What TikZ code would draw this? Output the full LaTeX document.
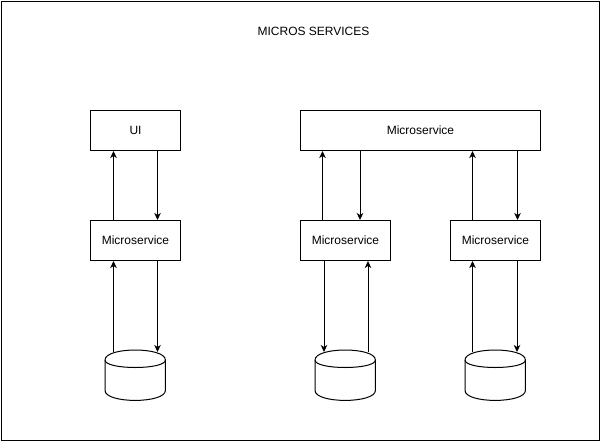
\documentclass[tikz,border=0pt]{standalone}
\usepackage{fontspec}
\setmainfont{Liberation Sans}
\usetikzlibrary{arrows.meta}
\begin{document}
\begin{tikzpicture}[x=1pt,y=-1pt,
  box/.style={draw=black,line width=1pt,minimum width=90pt,minimum height=40pt,inner sep=0pt,font=\fontsize{12}{14}\selectfont,anchor=north west},
  dbspace/.style={minimum width=60pt,minimum height=50pt,inner sep=0pt,anchor=north west},
  arr/.style={draw=black,line width=1pt,-{Stealth[length=7pt,width=6.5pt,inset=2pt]}},
  cyl/.style={draw=black,line width=1pt,fill=white}]
\useasboundingbox (0,0) rectangle (601,442);
\draw[line width=1pt] (1,1) rectangle (599.5,440.5);
\node[font=\fontsize{12}{14}\selectfont] (title) at (313.5,31) {MICROS SERVICES};
% boxes
\node[box] (ui) at (90,110) {UI};
\node[box,minimum width=240pt] (top) at (300,110) {Microservice};
\node[box] (ms1) at (90,220) {Microservice};
\node[box] (ms2) at (300,220) {Microservice};
\node[box] (ms3) at (450,220) {Microservice};
% databases
\node[dbspace] (db1) at (105,350) {};
\node[dbspace] (db2) at (315,350) {};
\node[dbspace] (db3) at (465,350) {};
\foreach \d in {db1,db2,db3}{
  \draw[cyl] ([yshift=-10pt]\d.north west) .. controls ([yshift=3.33pt]\d.north west) and ([yshift=3.33pt]\d.north east) .. ([yshift=-10pt]\d.north east)
     -- ([yshift=10pt]\d.south east) .. controls ([yshift=-3.33pt]\d.south east) and ([yshift=-3.33pt]\d.south west) .. ([yshift=10pt]\d.south west) -- cycle;
  \draw[cyl,fill=none] ([yshift=-10pt]\d.north west) .. controls ([yshift=-20pt]\d.north west) and ([yshift=-20pt]\d.north east) .. ([yshift=-10pt]\d.north east);
}
% connectors UI <-> ms1
\draw[arr] ([xshift=-22pt]ms1.north) -- ([xshift=-22pt]ui.south);
\draw[arr] ([xshift=22pt]ui.south) -- ([xshift=22pt]ms1.north);
% top <-> ms2
\draw[arr] (ms2.north -| 322.5,0) -- (top.south -| 322.5,0);
\draw[arr] (top.south -| 360,0) -- (ms2.north -| 360,0);
% top <-> ms3
\draw[arr] (ms3.north -| 472.5,0) -- (top.south -| 472.5,0);
\draw[arr] (top.south -| 517.5,0) -- (ms3.north -| 517.5,0);
% ms1 <-> db1
\draw[arr] ([xshift=-22pt,yshift=-2pt]db1.north -| ms1.south) -- ([xshift=-22pt]ms1.south);
\draw[arr] ([xshift=22pt]ms1.south) -- ([xshift=22pt,yshift=-2pt]db1.north -| ms1.south);
% ms2 <-> db2
\draw[arr] (ms2.south -| 324,0) -- ([yshift=-2pt]db2.north -| 324,0);
\draw[arr] ([yshift=-2pt]db2.north -| 368,0) -- (ms2.south -| 368,0);
% ms3 <-> db3
\draw[arr] ([yshift=-2pt]db3.north -| 472.5,0) -- (ms3.south -| 472.5,0);
\draw[arr] (ms3.south -| 517,0) -- ([yshift=-2pt]db3.north -| 517,0);
\end{tikzpicture}
\end{document}
